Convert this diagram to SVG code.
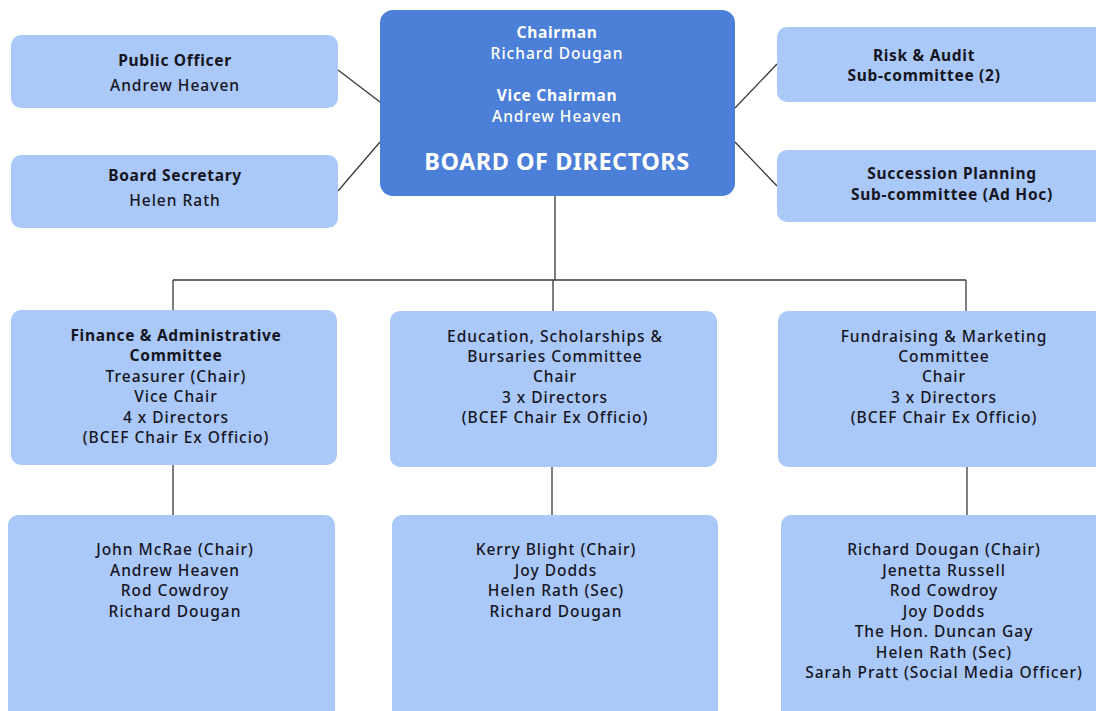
<svg xmlns="http://www.w3.org/2000/svg" width="1096" height="711" viewBox="0 0 1096 711">
<style>
.box{fill:#aac8f8;}
.main{fill:#4c7fd7;}
text{font-family:"Noto Sans","Open Sans","Liberation Sans",sans-serif;font-size:15.5px;text-anchor:middle;fill:#15151f;font-weight:500;letter-spacing:1px;}
.b{font-weight:700;font-size:15.5px;letter-spacing:0.7px;}
.w{fill:#ffffff;}
.big{font-size:23.5px;font-weight:700;fill:#ffffff;letter-spacing:0.5px;}
.conn{stroke:#3a3a3a;stroke-width:1.3;fill:none;}
</style>
<rect width="1096" height="711" fill="#ffffff"/>
<g id="connectors">
<line class="conn" x1="338" y1="70" x2="380" y2="102"/>
<line class="conn" x1="338" y1="191" x2="380" y2="142"/>
<line class="conn" x1="777" y1="64" x2="735" y2="108"/>
<line class="conn" x1="777" y1="186" x2="735" y2="142"/>
<line class="conn" x1="555" y1="196" x2="555" y2="280"/>
<line class="conn" x1="173" y1="280" x2="966" y2="280"/>
<line class="conn" x1="173" y1="280" x2="173" y2="310"/>
<line class="conn" x1="553" y1="280" x2="553" y2="311"/>
<line class="conn" x1="966" y1="280" x2="966" y2="311"/>
<line class="conn" x1="173" y1="465" x2="173" y2="515"/>
<line class="conn" x1="552" y1="467" x2="552" y2="515"/>
<line class="conn" x1="967" y1="467" x2="967" y2="515"/>
</g>
<g id="public-officer">
<rect class="box" x="11" y="35" width="327" height="73" rx="10"/>
<text class="b" x="175" y="66">Public Officer</text>
<text x="175" y="91">Andrew Heaven</text>
</g>
<g id="board-secretary">
<rect class="box" x="11" y="155" width="327" height="73" rx="10"/>
<text class="b" x="175" y="181">Board Secretary</text>
<text x="175" y="206">Helen Rath</text>
</g>
<g id="board">
<rect class="main" x="380" y="10" width="355" height="186" rx="13"/>
<text class="b w" x="557" y="38">Chairman</text>
<text class="w" x="557" y="59">Richard Dougan</text>
<text class="b w" x="557" y="101">Vice Chairman</text>
<text class="w" x="557" y="122">Andrew Heaven</text>
<text class="big" x="557" y="170">BOARD OF DIRECTORS</text>
</g>
<g id="risk-audit">
<rect class="box" x="777" y="27" width="330" height="75" rx="10"/>
<text class="b" x="924" y="61">Risk &amp; Audit</text>
<text class="b" x="924" y="81">Sub-committee (2)</text>
</g>
<g id="succession">
<rect class="box" x="777" y="150" width="330" height="72" rx="10"/>
<text class="b" x="952" y="179">Succession Planning</text>
<text class="b" x="952" y="200">Sub-committee (Ad Hoc)</text>
</g>
<g id="finance">
<rect class="box" x="11" y="310" width="326" height="155" rx="10"/>
<text class="b" x="176" y="341">Finance &amp; Administrative</text>
<text class="b" x="176" y="361">Committee</text>
<text x="176" y="382">Treasurer (Chair)</text>
<text x="176" y="402">Vice Chair</text>
<text x="176" y="423">4 x Directors</text>
<text x="176" y="443">(BCEF Chair Ex Officio)</text>
</g>
<g id="education">
<rect class="box" x="390" y="311" width="327" height="156" rx="10"/>
<text x="555" y="342">Education, Scholarships &amp;</text>
<text x="555" y="362">Bursaries Committee</text>
<text x="555" y="382">Chair</text>
<text x="555" y="403">3 x Directors</text>
<text x="555" y="423">(BCEF Chair Ex Officio)</text>
</g>
<g id="fundraising">
<rect class="box" x="778" y="311" width="330" height="156" rx="10"/>
<text x="944" y="342">Fundraising &amp; Marketing</text>
<text x="944" y="362">Committee</text>
<text x="944" y="382">Chair</text>
<text x="944" y="403">3 x Directors</text>
<text x="944" y="423">(BCEF Chair Ex Officio)</text>
</g>
<g id="finance-members">
<rect class="box" x="8" y="515" width="327" height="206" rx="10"/>
<text x="175" y="555">John McRae (Chair)</text>
<text x="175" y="576">Andrew Heaven</text>
<text x="175" y="596">Rod Cowdroy</text>
<text x="175" y="617">Richard Dougan</text>
</g>
<g id="education-members">
<rect class="box" x="392" y="515" width="326" height="206" rx="10"/>
<text x="556" y="555">Kerry Blight (Chair)</text>
<text x="556" y="576">Joy Dodds</text>
<text x="556" y="596">Helen Rath (Sec)</text>
<text x="556" y="617">Richard Dougan</text>
</g>
<g id="fundraising-members">
<rect class="box" x="781" y="515" width="330" height="206" rx="10"/>
<text x="944" y="555">Richard Dougan (Chair)</text>
<text x="944" y="576">Jenetta Russell</text>
<text x="944" y="596">Rod Cowdroy</text>
<text x="944" y="617">Joy Dodds</text>
<text x="944" y="637">The Hon. Duncan Gay</text>
<text x="944" y="658">Helen Rath (Sec)</text>
<text x="944" y="678">Sarah Pratt (Social Media Officer)</text>
</g>
</svg>
